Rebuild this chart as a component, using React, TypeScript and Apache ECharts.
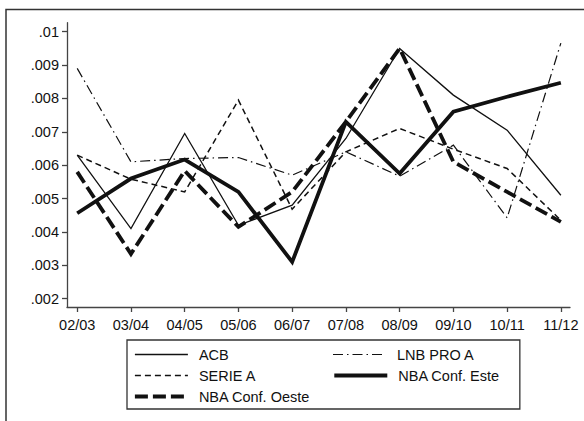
import React, { useEffect, useRef } from "react";
import * as echarts from "echarts";

// Seasons on the horizontal axis
const seasons = ["02/03", "03/04", "04/05", "05/06", "06/07", "07/08", "08/09", "09/10", "10/11", "11/12"];

// Values per league and season
const acb = [0.0063, 0.0041, 0.00695, 0.0042, 0.0048, 0.0068, 0.0095, 0.0081, 0.00705, 0.0051];
const serieA = [0.0063, 0.00558, 0.0052, 0.00795, 0.00468, 0.0064, 0.0071, 0.00648, 0.0059, 0.00435];
const lnbProA = [0.0089, 0.0061, 0.0062, 0.00623, 0.0057, 0.0064, 0.00567, 0.0066, 0.00442, 0.00966];
const nbaEste = [0.00456, 0.0056, 0.00617, 0.0052, 0.0031, 0.0073, 0.00575, 0.0076, 0.00805, 0.00847];
const nbaOeste = [0.0058, 0.00334, 0.00583, 0.00415, 0.0052, 0.0073, 0.0095, 0.0061, 0.0052, 0.0043];

// Labelled ticks of the value axis
const yTicks = [0.002, 0.003, 0.004, 0.005, 0.006, 0.007, 0.008, 0.009, 0.01];
const xTicks = seasons.map((_, i) => i);

const FONT = "'Liberation Sans', Arial, Helvetica, sans-serif";
const INK = "#111";

const toPairs = (vals: number[]) => vals.map((v, i) => [i, v]);

export default function App() {
  const ref = useRef<HTMLDivElement>(null);

  useEffect(() => {
    if (!ref.current) return;
    const chart = echarts.init(ref.current, null, { renderer: "svg" });

    const mk = (name: string, vals: number[], width: number, type: any) => ({
      name,
      type: "line",
      data: toPairs(vals),
      showSymbol: false,
      symbol: "none",
      lineStyle: { color: INK, width, type, join: "miter", cap: "butt" },
      itemStyle: { color: INK },
      emphasis: { disabled: true },
    });

    // Left legend column gets a fixed text width so the two columns line up
    const leftCol = { width: 127.5 };

    chart.setOption({
      animation: false,
      backgroundColor: "#fff",
      textStyle: { fontFamily: FONT },
      grid: { left: 67, right: 14, top: 22.7, bottom: 114, containLabel: false },
      xAxis: {
        type: "value",
        min: -0.19,
        max: 9.17,
        splitLine: { show: false },
        axisLine: { show: true, onZero: false, lineStyle: { color: "#444", width: 1.3 } },
        axisTick: { show: true, customValues: xTicks, length: 5, lineStyle: { color: "#444", width: 1.3 } },
        axisLabel: {
          customValues: xTicks,
          formatter: (v: number) => seasons[Math.round(v)] ?? "",
          color: INK,
          fontSize: 14.5,
          fontFamily: FONT,
          margin: 10,
        },
      },
      yAxis: {
        type: "value",
        min: 0.00175,
        max: 0.01027,
        splitLine: { show: false },
        axisLine: { show: true, onZero: false, lineStyle: { color: "#444", width: 1.3 } },
        axisTick: { show: true, customValues: yTicks, length: 5, lineStyle: { color: "#444", width: 1.3 } },
        axisLabel: {
          customValues: yTicks,
          formatter: (v: number) => v.toFixed(3).replace(/^0/, "").replace(/0+$/, ""),
          color: INK,
          fontSize: 14.5,
          fontFamily: FONT,
          margin: 8,
        },
      },
      legend: {
        left: 127,
        top: 340,
        padding: [7, 20, 5, 6],
        itemWidth: 53,
        itemHeight: 12,
        itemGap: 6,
        borderColor: "#333",
        borderWidth: 1.3,
        selectedMode: false,
        itemStyle: { opacity: 0 },
        lineStyle: { width: "inherit" },
        textStyle: { color: INK, fontSize: 14.5, lineHeight: 14, fontFamily: FONT, padding: [0, 0, 0, 6] },
        data: [
          { name: "ACB", textStyle: leftCol },
          { name: "LNB PRO A" },
          { name: "SERIE A", textStyle: leftCol },
          { name: "NBA Conf. Este" },
          { name: "NBA Conf. Oeste", textStyle: leftCol },
        ],
      },
      graphic: [
        {
          type: "rect",
          shape: { x: 6, y: 9.5, width: 640, height: 480 },
          style: { fill: "none", stroke: "#333", lineWidth: 1.5 },
          silent: true,
        },
      ],
      series: [
        mk("ACB", acb, 1.3, "solid"),
        mk("SERIE A", serieA, 1.5, [6, 4]),
        mk("LNB PRO A", lnbProA, 1.2, [10, 4, 1.5, 4]),
        mk("NBA Conf. Este", nbaEste, 3.8, "solid"),
        mk("NBA Conf. Oeste", nbaOeste, 3.8, [13, 5]),
      ],
    });

    return () => chart.dispose();
  }, []);

  return (
    <div
      ref={ref}
      style={{ position: "fixed", left: 0, top: 0, width: 584, height: 421 }}
    />
  );
}
